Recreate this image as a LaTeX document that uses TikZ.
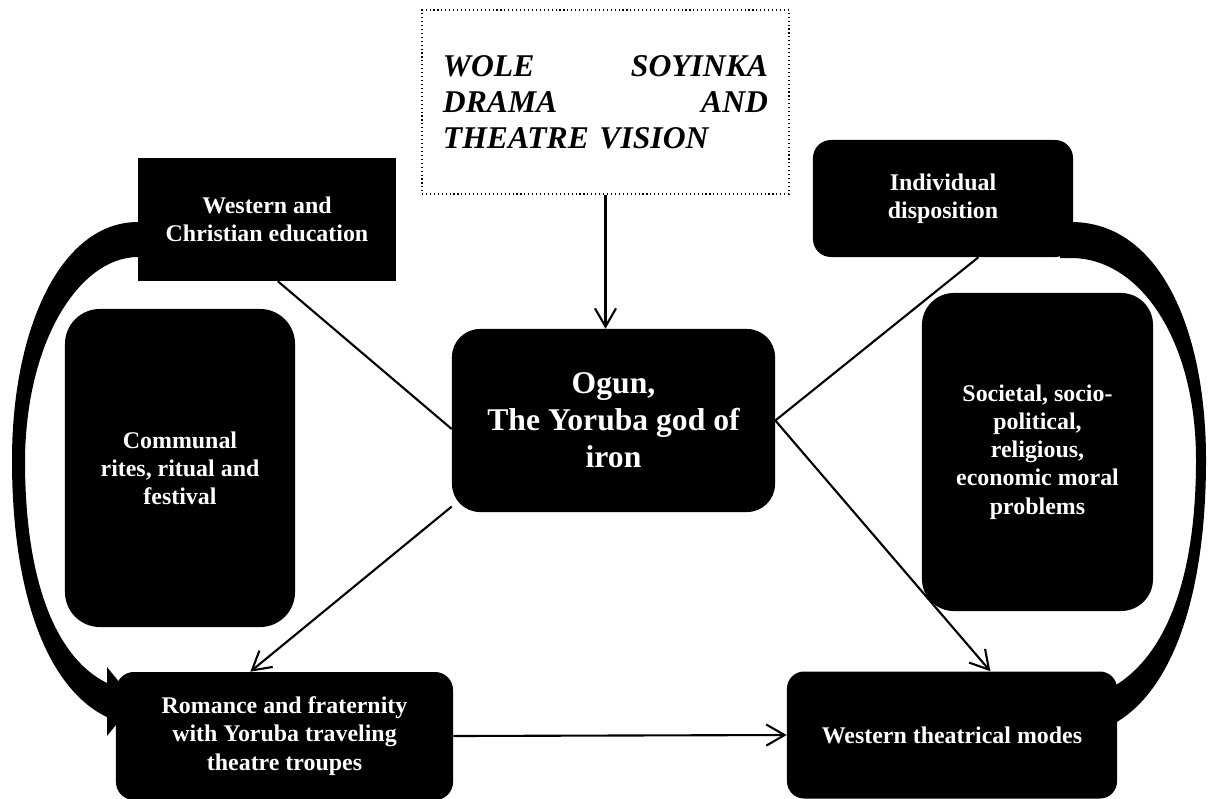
\documentclass[tikz,border=0pt]{standalone}
\usepackage{fontspec}
\setmainfont{Liberation Serif}
\usetikzlibrary{arrows.meta}

\begin{document}
\begin{tikzpicture}[x=0.025cm,y=-0.025cm,
  box/.style={fill=black,text=white,align=center,inner sep=0pt,font=\bfseries\fontsize{17}{20}\selectfont},
  conn/.style={line width=1.5pt},
  arr/.style={conn,-{Straight Barb[length=13pt,width=15pt]}}]
\useasboundingbox (0,0) rectangle (1208,798);

% thick curved bands at the sides
\fill (150,222) -- (138,222) .. controls (60,222) and (12,330) .. (12,460) .. controls (12,600) and (50,690) .. (107,717) -- (107,736) -- (135,701.5) -- (107,667) -- (107,683) .. controls (60,660) and (25,590) .. (25,460) .. controls (26,340) and (80,257) .. (138,257) -- (150,257) -- cycle;
\fill (1060,222) -- (1071,222) .. controls (1160,222) and (1206,330) .. (1206,460) .. controls (1206,600) and (1170,700) .. (1105,728) -- (1105,691) .. controls (1160,665) and (1196,590) .. (1196,460) .. controls (1196,340) and (1140,258) .. (1071,258) -- (1060,258) -- cycle;

\node[draw,dotted,line width=0.8pt,fill=white,minimum width=9.175cm,minimum height=4.6cm,text width=8.125cm,align=left,inner sep=0pt,font=\bfseries\itshape\fontsize{22.5}{25.6}\selectfont] (title) at (605.5,102) {WOLE\hfill SOYINKA\\DRAMA\hfill AND\\THEATRE VISION};
\node[box,minimum width=6.45cm,minimum height=3.075cm] (west) at (267,219.5) {Western and\\Christian education};
\node[box,rounded corners=0.45cm,minimum width=6.5cm,minimum height=2.925cm] (indiv) at (943,198.5) {Individual\\disposition};
\node[box,rounded corners=0.7cm,minimum width=8.075cm,minimum height=4.575cm,font=\bfseries\fontsize{22.5}{26.3}\selectfont] (ogun) at (613.5,420.5) {Ogun,\\The Yoruba god of\\iron};
\node[box,rounded corners=0.875cm,minimum width=5.75cm,minimum height=7.95cm] (comm) at (180,468) {Communal\\rites, ritual and\\festival};
\node[box,rounded corners=0.8cm,minimum width=5.775cm,minimum height=7.95cm] (soc) at (1037.5,452) {Societal, socio-\\political,\\religious,\\economic moral\\problems};
\node[box,rounded corners=0.45cm,minimum width=8.425cm,minimum height=3.2cm] (rom) at (284.5,736) {Romance and fraternity\\with Yoruba traveling\\theatre troupes};
\node[box,rounded corners=0.43cm,minimum width=8.25cm,minimum height=3.175cm] (modes) at (952,735) {Western theatrical modes};

\draw[arr] (title.south) -- (title.south |- ogun.north);
\draw[conn] (west.-80) -- (ogun.183);
\draw[conn] (indiv.-59) -- (ogun.east);
\draw[arr] (ogun.east) -- (modes.59);
\draw[arr] (ogun.208) -- (rom.118);
\draw[arr] (rom.east) -- (modes.west);

\end{tikzpicture}
\end{document}
